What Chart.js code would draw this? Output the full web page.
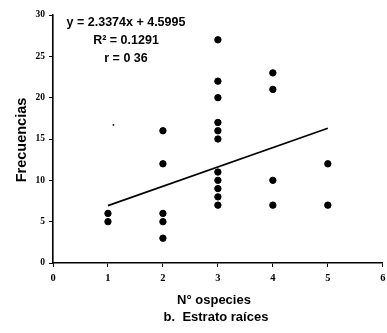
<!DOCTYPE html>
<html lang="es">
<head>
  <meta charset="UTF-8">
  <title>Estrato raíces</title>
  <script src="https://cdn.jsdelivr.net/npm/chart.js"></script>
  <style>
    html, body { margin: 0; padding: 0; background: #fff; }
    #grafico { display: block; }
  </style>
</head>
<body>
  <canvas id="grafico" width="387" height="333"></canvas>
<script>
  // datos
  const especiesX = [1, 1, 2, 2, 2, 2, 2, 3, 3, 3, 3, 3, 3, 3, 3, 3, 3, 3, 4, 4, 4, 4, 5, 5];
  const frecuenciasY = [6, 5, 16, 12, 6, 5, 3, 27, 22, 20, 17, 16, 15, 11, 10, 9, 8, 7, 23, 21, 10, 7, 12, 7];
  const tendenciaX = [1, 5];
  const tendenciaY = [6.94, 16.29];
  const manchaX = [1.1];
  const manchaY = [16.7];
  const ticksY = [0, 5, 10, 15, 20, 25, 30];
  const ticksX = [0, 1, 2, 3, 4, 5, 6];
  const ecuacion = ['y = 2.3374x + 4.5995', 'R² = 0.1291', 'r = 0 36'];

  function puntos(xs, ys) {
    let lista = [];
    for (let i = 0; i < xs.length; i++) {
      lista.push({ x: xs[i], y: ys[i] });
    }
    return lista;
  }

  // textos fijos (ecuacion y titulos)
  const textos = {
    id: 'textos',
    afterDraw(chart) {
      const ctx = chart.ctx;
      ctx.save();
      ctx.fillStyle = '#000';
      ctx.textAlign = 'center';
      ctx.textBaseline = 'middle';
      ctx.font = 'bold 12.5px "Liberation Sans", Arial, sans-serif';
      ctx.fillText(ecuacion[0], 126, 23);
      ctx.fillText(ecuacion[1], 126, 41);
      ctx.fillText(ecuacion[2], 126, 59);

      ctx.font = 'bold 13px "Liberation Sans", Arial, sans-serif';
      ctx.fillText('N° ospecies', 214, 300);
      ctx.fillText('b.  Estrato raíces', 216, 317);

      ctx.font = 'bold 14.5px "Liberation Sans", Arial, sans-serif';
      ctx.translate(22, 140);
      ctx.rotate(-Math.PI / 2);
      ctx.fillText('Frecuencias', 0, 0);
      ctx.restore();
    }
  };

  const ctxGrafico = document.getElementById('grafico').getContext('2d');

  new Chart(ctxGrafico, {
    type: 'scatter',
    data: {
      datasets: [
        {
          label: 'Frecuencias',
          data: puntos(especiesX, frecuenciasY),
          backgroundColor: '#000',
          borderColor: '#000',
          pointRadius: 3.2,
          pointHoverRadius: 3.2
        },
        {
          label: 'mancha',
          data: puntos(manchaX, manchaY),
          backgroundColor: '#000',
          borderColor: '#000',
          pointRadius: 0.9,
          pointBorderWidth: 0
        },
        {
          type: 'line',
          label: 'Tendencia',
          data: puntos(tendenciaX, tendenciaY),
          borderColor: '#000',
          borderWidth: 1.6,
          pointRadius: 0,
          fill: false
        }
      ]
    },
    options: {
      responsive: false,
      animation: false,
      layout: { padding: { left: 0, right: 3, top: 15, bottom: 0 } },
      plugins: {
        legend: { display: false },
        tooltip: { enabled: false }
      },
      scales: {
        x: {
          type: 'linear',
          min: 0,
          max: 6,
          afterBuildTicks(scale) {
            scale.ticks = ticksX.map(v => ({ value: v }));
          },
          afterFit(scale) {
            scale.height = 70;
            scale.paddingRight = 0;
            scale.paddingLeft = 0;
          },
          grid: { drawOnChartArea: false, drawTicks: true, tickLength: 4, color: '#000', lineWidth: 1 },
          border: { color: '#000', width: 1.6 },
          ticks: {
            color: '#000',
            padding: 5,
            maxRotation: 0,
            font: { family: '"Liberation Serif", serif', size: 10.5, weight: 'bold' }
          }
        },
        y: {
          min: 0,
          max: 30,
          afterBuildTicks(scale) {
            scale.ticks = ticksY.map(v => ({ value: v }));
          },
          afterFit(scale) {
            scale.width = 53;
            scale.paddingTop = 0;
            scale.paddingBottom = 0;
          },
          grid: { drawOnChartArea: false, drawTicks: true, tickLength: 4, color: '#000', lineWidth: 1 },
          border: { color: '#000', width: 1.6 },
          ticks: {
            color: '#000',
            padding: 4,
            font: { family: '"Liberation Serif", serif', size: 9.5, weight: 'bold' }
          }
        }
      }
    },
    plugins: [textos]
  });
</script>
</body>
</html>
